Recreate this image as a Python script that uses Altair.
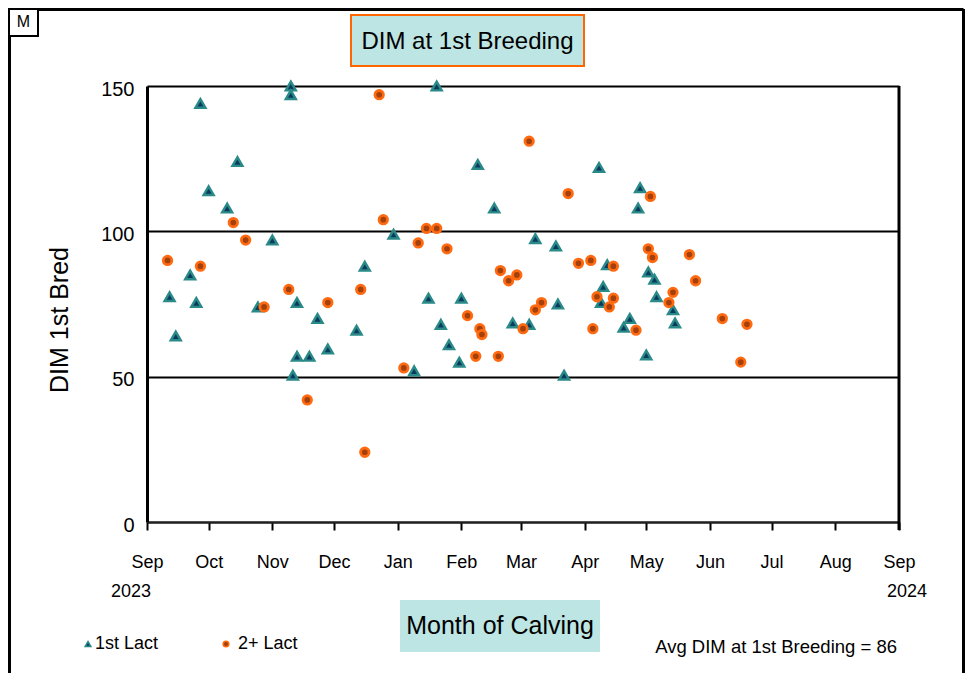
import altair as alt
import pandas as pd

# ---------------- data ----------------
lact1_dates = [
    "2023-11-10", "2023-11-10", "2023-09-27", "2023-10-15", "2023-10-01", "2023-10-10",
    "2023-11-01", "2023-12-30", "2023-09-22", "2023-12-16", "2023-09-12", "2023-09-25",
    "2023-10-25", "2023-11-13", "2023-11-23", "2023-12-12", "2023-09-15", "2023-11-28",
    "2023-11-13", "2023-11-19", "2023-11-11",
    "2024-01-20", "2024-02-09", "2024-04-08", "2024-04-28", "2024-02-17", "2024-04-27",
    "2024-03-08", "2024-03-18", "2024-01-16", "2024-02-01", "2024-04-12", "2024-04-10",
    "2024-05-02", "2024-03-19", "2024-04-09", "2024-01-22", "2024-02-26", "2024-03-05",
    "2024-04-23", "2024-04-20", "2024-01-26", "2024-01-31", "2024-01-09", "2024-03-22",
    "2024-05-01", "2024-05-05", "2024-05-06", "2024-05-14", "2024-05-15",
]
lact1_dim = [
    150, 147, 144, 124, 114, 108,
    97, 99, 85, 88, 77.5, 75.5,
    74, 75.5, 70, 66, 64, 59.5,
    57, 57, 50.5,
    150, 123, 122, 115, 108, 108,
    97.5, 95, 77, 77, 88.5, 81,
    86, 75, 75.5, 68, 68.5, 68,
    70, 67, 61, 55, 52, 50.5,
    57.5, 83.5, 77.5, 73, 68.5,
]
lact2_dates = [
    "2023-09-11", "2023-09-27", "2023-10-13", "2023-10-19", "2023-10-28", "2023-11-09",
    "2023-11-18", "2023-11-28", "2023-12-14", "2023-12-16", "2023-12-23", "2023-12-25",
    "2024-01-04", "2024-01-11", "2024-01-15", "2024-01-20", "2024-01-25", "2024-02-04",
    "2024-02-08", "2024-02-10", "2024-02-11", "2024-02-19", "2024-02-20", "2024-02-24",
    "2024-02-28", "2024-03-02", "2024-03-05", "2024-03-08", "2024-03-11", "2024-03-24",
    "2024-03-29", "2024-04-04", "2024-04-05", "2024-04-07", "2024-04-13", "2024-04-15",
    "2024-04-15", "2024-04-26", "2024-05-02", "2024-05-03", "2024-05-04", "2024-05-12",
    "2024-05-14", "2024-05-22", "2024-05-25", "2024-06-07", "2024-06-16", "2024-06-19",
]
lact2_dim = [
    90, 88, 103, 97, 74, 80,
    42, 75.5, 80, 24, 147, 104,
    53, 96, 101, 101, 94, 71,
    57, 66.5, 64.5, 57, 86.5, 83,
    85, 66.5, 131, 73, 75.5, 113,
    89, 90, 66.5, 77.5, 74, 88,
    77, 66, 94, 112, 91, 75.5,
    79, 92, 83, 70, 55, 68,
]
month_ticks = [
    "2023-09-01", "2023-10-01", "2023-11-01", "2023-12-01", "2024-01-01", "2024-02-01",
    "2024-03-01", "2024-04-01", "2024-05-01", "2024-06-01", "2024-07-01", "2024-08-01",
    "2024-09-01",
]
y_ticks = [0, 50, 100, 150]
series_names = ["1st Lact", "2+ Lact"]
avg_dim = 86
chart_title = "DIM at 1st Breeding"
x_title = "Month of Calving"
y_title = "DIM 1st Bred"
year_labels = ["2023", "2024"]

# ---------------- styling ----------------
FONT = "Liberation Sans"
W, H = 752, 436
BOX_FILL = "#BDE5E3"
TRI_FILL, TRI_STROKE = "#0b3a5e", "#2a8a88"
CIR_FILL, CIR_STROKE = "#a3400c", "#ff6a10"

df1 = pd.DataFrame({"date": lact1_dates, "dim": lact1_dim})
df2 = pd.DataFrame({"date": lact2_dates, "dim": lact2_dim})
one = alt.Data(values=[{}])


def to_dt(s):
    return alt.DateTime(year=int(s[:4]), month=int(s[5:7]), date=int(s[8:10]), utc=True)


tick_dt = [to_dt(s) for s in month_ticks]

x_enc = alt.X(
    "date:T",
    scale=alt.Scale(type="utc", domain=[tick_dt[0], tick_dt[-1]], nice=False),
    axis=alt.Axis(
        values=tick_dt, labelExpr="utcFormat(datum.value, '%b')", title=None,
        grid=False, ticks=True, tickColor="black", tickWidth=2, tickSize=8,
        domainColor="#222222", domainWidth=2, labelFont=FONT, labelFontSize=18,
        labelColor="black", labelPadding=23, labelFlush=False, labelOverlap=False,
        labelBaseline="top",
    ),
)
y_enc = alt.Y(
    "dim:Q",
    scale=alt.Scale(domain=[0, 150], nice=False),
    axis=alt.Axis(
        values=y_ticks, title=None, grid=True, gridColor="black", gridWidth=2,
        gridOpacity=1, domainColor="black", domainWidth=3, ticks=False, tickSize=0,
        labelFont=FONT, labelFontSize=20, labelColor="black", labelPadding=13,
        labelOffset=3,
    ),
)

tri = alt.Chart(df1).mark_point(
    shape="triangle-up", filled=True, fill=TRI_FILL, stroke=TRI_STROKE,
    strokeWidth=2.4, size=100, opacity=1, fillOpacity=1, strokeOpacity=1,
).encode(x=x_enc, y=y_enc)

cir = alt.Chart(df2).mark_point(
    shape="circle", filled=True, fill=CIR_FILL, stroke=CIR_STROKE,
    strokeWidth=2.8, size=72, opacity=1, fillOpacity=1, strokeOpacity=1,
).encode(x=x_enc, y=y_enc)


def box(x, x2, y, y2, **kw):
    return alt.Chart(one).mark_rect(**kw).encode(
        x=alt.value(x), x2=alt.value(x2), y=alt.value(y), y2=alt.value(y2))


def txt(x, y, s, size, align="center", angle=0):
    return alt.Chart(one).mark_text(
        text=s, font=FONT, fontSize=size, align=align, baseline="middle",
        color="black", angle=angle).encode(x=alt.value(x), y=alt.value(y))


def rule(x, y, x2=None, y2=None, width=3):
    enc = dict(x=alt.value(x), y=alt.value(y))
    if x2 is not None:
        enc["x2"] = alt.value(x2)
    if y2 is not None:
        enc["y2"] = alt.value(y2)
    return alt.Chart(one).mark_rule(color="black", strokeWidth=width).encode(**enc)


layers = [
    # outer frame
    rule(-137.5, -76.5, x2=816.5),
    rule(-137.5, -77, y2=590),
    rule(816.5, -77, y2=590),
    # "M" box
    box(-138, -109, -77, -50, fill="white", stroke="black", strokeWidth=2),
    txt(-123.5, -64, "M", 16),
    # title box
    box(204, 437, -71, -20, fill=BOX_FILL, stroke="#FF6600", strokeWidth=2),
    txt(320.5, -44.5, chart_title, 24),
    # x title box
    box(253, 453, 514, 566, fill=BOX_FILL),
    txt(353, 540, x_title, 25),
    # y title
    txt(-87, 234, y_title, 25, angle=270),
    # year labels
    txt(-16, 506, year_labels[0], 18),
    txt(760, 506, year_labels[1], 18),
    # data
    tri,
    cir,
    # right border of plot
    rule(752, 0, y2=444),
    # legend
    alt.Chart(one).mark_point(shape="triangle-up", filled=True, fill=TRI_FILL,
                              stroke=TRI_STROKE, strokeWidth=1.5, size=32,
                              opacity=1).encode(x=alt.value(-59), y=alt.value(558)),
    txt(-52, 558, series_names[0], 18, align="left"),
    alt.Chart(one).mark_point(shape="circle", filled=True, fill=CIR_FILL,
                              stroke=CIR_STROKE, strokeWidth=1.5, size=32,
                              opacity=1).encode(x=alt.value(79), y=alt.value(558)),
    txt(91, 558, series_names[1], 18, align="left"),
    txt(750, 561, f"Avg DIM at 1st Breeding = {avg_dim}", 18.5, align="right"),
]

chart = alt.layer(*layers).properties(
    width=W, height=H,
    padding={"left": 139, "top": 78, "right": 66, "bottom": 151},
    autosize=alt.AutoSizeParams(type="none"),
    background="white",
).configure_view(stroke=None)

chart.save("out.html", embed_options={"renderer": "svg", "actions": False})
